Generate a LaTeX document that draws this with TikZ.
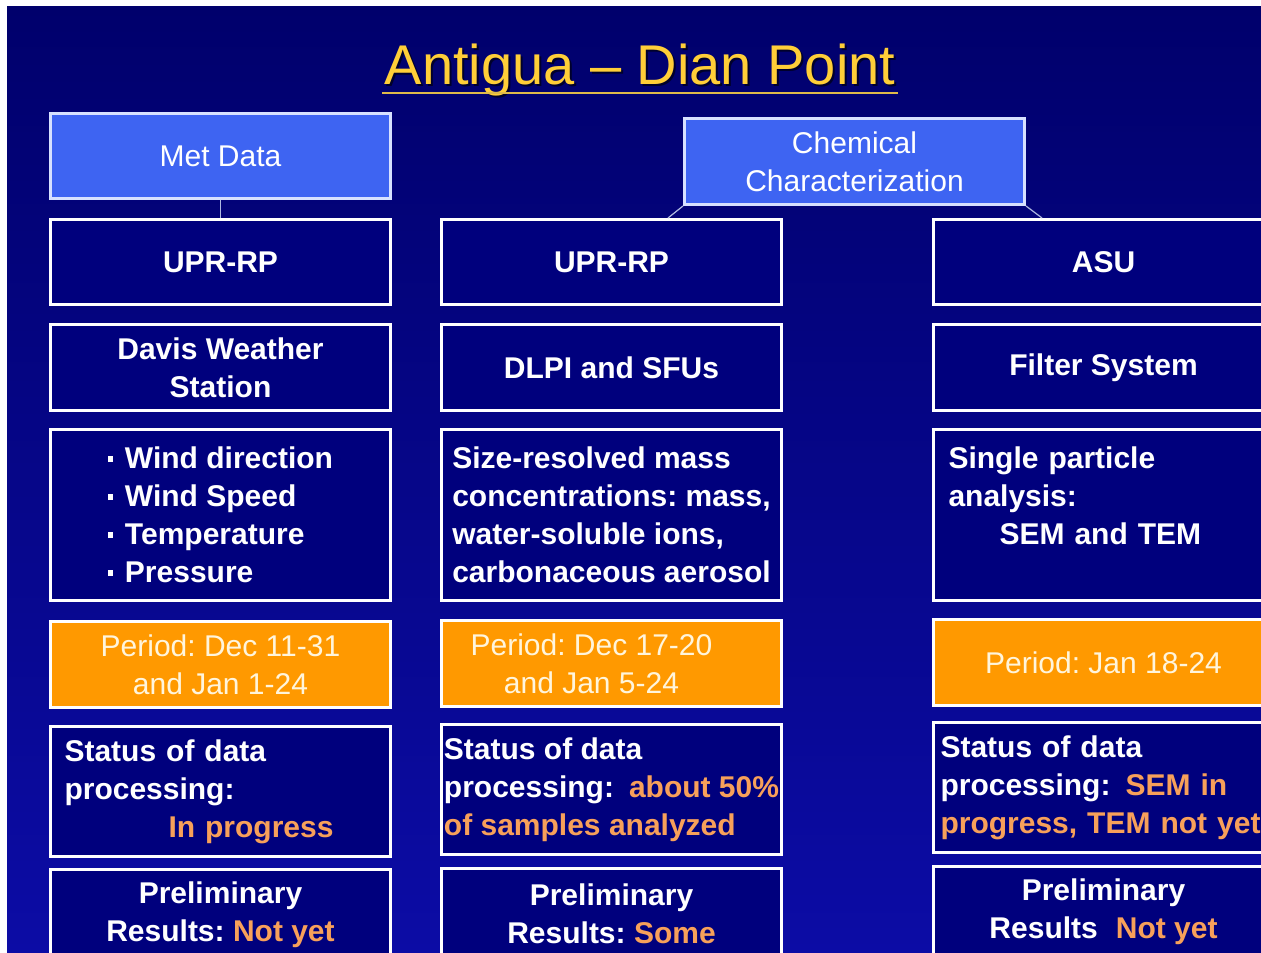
\documentclass[tikz,border=0pt]{standalone}
\usepackage{fontspec}
\setmainfont{Liberation Sans}
\usepackage{tikz}
\frenchspacing

\definecolor{bgtop}{RGB}{0,0,108}
\definecolor{bgbot}{RGB}{12,12,165}
\definecolor{boxnavy}{RGB}{0,0,125}
\definecolor{headblue}{RGB}{62,100,242}
\definecolor{headrim}{RGB}{215,225,255}
\definecolor{periodorange}{RGB}{255,153,0}
\definecolor{periodtext}{RGB}{255,245,220}
\definecolor{hilite}{RGB}{247,160,90}
\definecolor{titleyellow}{RGB}{255,206,56}
\definecolor{linkgrey}{RGB}{175,185,225}

\newcommand{\hilit}[1]{\textcolor{hilite}{#1}}
\newcommand{\sqbul}{\raisebox{0.22em}{\rule{2.5pt}{3pt}}\hspace{6pt}}

\tikzset{
	% Box styles
	cellbox/.style={draw=white, line width=1.5pt, fill=boxnavy, text=white, anchor=north west,
		minimum width=170pt, inner sep=3pt, align=center, font=\bfseries\fontsize{15}{19}\selectfont},
	topbox/.style={cellbox, draw=headrim, fill=headblue, minimum height=42.5pt, font=\fontsize{15}{19}\selectfont},
	periodbox/.style={cellbox, fill=periodorange, text=periodtext, minimum height=43pt, font=\fontsize{15}{19}\selectfont},
	linkline/.style={draw=linkgrey, line width=0.6pt},
	titletext/.style={anchor=base, inner sep=1pt, font=\fontsize{28}{32}\selectfont, text=titleyellow}
}

\begin{document}
\begin{tikzpicture}[x=0.5pt, y=-0.5pt]
		\useasboundingbox (0,0) rectangle (1261,952);
		\clip (0,0) rectangle (1261,952);
		\fill [white] (0,0) rectangle (1261,952);
		\shade [top color=bgtop, bottom color=bgbot] (7,7) rectangle (1261,952);
		% Title
		\node [titletext, text=bgtop!40!black] (ttlshade) at (642,87) {Antigua – Dian Point};
		\node [titletext] (ttl) at (640,85) {Antigua – Dian Point};
		\draw [titleyellow!75!gray, line width=1pt] ([yshift=-4pt]ttl.base west) -- ([yshift=-4pt]ttl.base east);
		% Headers
		\node [topbox] (met) at (49,112) {Met Data};
		\node [topbox, minimum height=43pt] (chem) at (683,117) {Chemical\\Characterization};
		% Met data column
		\node [cellbox, minimum height=42.5pt] (upA) at (49,218) {UPR-RP};
		\node [cellbox, minimum height=43pt] (davis) at (49,323) {Davis Weather\\Station};
		\node [cellbox, minimum height=85.5pt, align=left] (metvars) at (49,428) {\sqbul Wind direction\\\sqbul Wind Speed\\\sqbul Temperature\\\sqbul Pressure};
		\node [periodbox] (perA) at (49,620) {Period: Dec 11-31\\and Jan 1-24};
		\node [cellbox, minimum height=65pt, align=left, text width=156pt, inner xsep=7pt] (statA) at (49,725) {Status of data\\processing:\\\hspace*{52pt}\hilit{In progress}};
		\node [cellbox, minimum height=45pt] (prelA) at (49,868) {Preliminary\\Results: \hilit{Not yet}};
		% UPR-RP chemistry column
		\node [cellbox, minimum height=42.5pt] (upB) at (440,218) {UPR-RP};
		\node [cellbox, minimum height=43pt] (dlpi) at (440,323) {DLPI and SFUs};
		\node [cellbox, minimum height=85.5pt, align=left] (mass) at (440,428) {Size-resolved mass\\concentrations: mass,\\water-soluble ions,\\carbonaceous aerosol};
		\node [periodbox] (perB) at (440,619) {Period: Dec 17-20\hspace*{20pt}\\and Jan 5-24\hspace*{20pt}};
		\node [cellbox, minimum height=65pt, align=left, inner xsep=1pt] (statB) at (440,723) {Status of data\\processing:\hspace{0.5em}\hilit{about 50\%}\\\hilit{of samples analyzed}};
		\node [cellbox, minimum height=45pt] (prelB) at (440,867) {Preliminary\\Results: \hilit{Some}};
		% ASU column
		\node [cellbox, minimum height=42.5pt] (asu) at (932,218) {ASU};
		\node [cellbox, minimum height=43pt] (filt) at (932,323) {Filter System};
		\node [cellbox, minimum height=85.5pt, align=left, text width=155pt, inner xsep=7.5pt] (sem) at (932,428) {Single particle\\analysis:\\\hspace*{25.5pt}SEM and TEM\\~};
		\node [periodbox] (perC) at (932,618) {Period: Jan 18-24};
		\node [cellbox, minimum height=65pt, align=left, text width=163pt, inner xsep=3.5pt] (statC) at (932,721) {Status of data\\processing:\hspace{0.5em}\hilit{SEM in}\\\hilit{progress, TEM not yet}};
		\node [cellbox, minimum height=45pt] (prelC) at (932,865) {Preliminary\\Results\hspace{0.6em}\hilit{Not yet}};
		% Connectors
		\coordinate (chemL) at (668,218);
		\coordinate (chemR) at (1042,218);
		\draw [linkline] (met.south) -- (upA.north);
		\draw [linkline] (chem.south west) -- (chemL);
		\draw [linkline] (chem.south east) -- (chemR);
	\end{tikzpicture}
\end{document}
